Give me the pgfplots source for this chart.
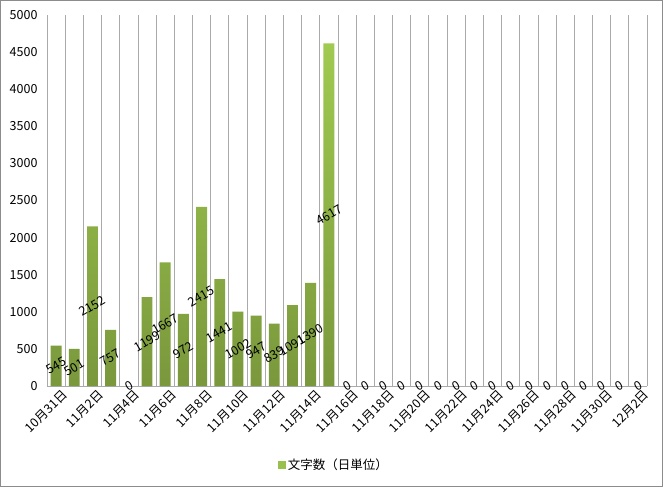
\documentclass[border=0pt]{standalone}
\usepackage{pgfplots}
\pgfplotsset{compat=1.18}
\usepackage{pgfplotstable}
\usepackage{fontspec}
\setmainfont{Noto Sans CJK JP}
\definecolor{bartop}{RGB}{160,202,80}
\definecolor{barbot}{RGB}{122,152,60}
\definecolor{gridc}{RGB}{170,170,170}
\definecolor{framec}{RGB}{140,140,140}
\pgfplotstableread{
i v
0 545
1 501
2 2152
3 757
4 0
5 1199
6 1667
7 972
8 2415
9 1441
10 1002
11 947
12 839
13 1091
14 1390
15 4617
16 0
17 0
18 0
19 0
20 0
21 0
22 0
23 0
24 0
25 0
26 0
27 0
28 0
29 0
30 0
31 0
32 0
}\datatable
\pgfplotstableread{
i v
0 545
1 501
2 2152
3 757
5 1199
6 1667
7 972
8 2415
9 1441
10 1002
11 947
12 839
13 1091
14 1390
15 4617
}\bartable
\begin{document}
\begin{tikzpicture}[x=1pt,y=1pt]
\useasboundingbox (0,0) rectangle (663,487);
\fill[white] (0,0) rectangle (663,487);
\draw[framec, line width=1.2pt] (0.6,0.6) rectangle (662.4,486.4);
\begin{axis}[
  at={(47pt,101pt)}, anchor=south west,
  scale only axis, width=600pt, height=371pt,
  xmin=-0.5, xmax=32.5, ymin=0, ymax=5000,
  axis x line*=bottom, axis y line*=left,
  axis line style={gridc, line width=0.8pt, -},
  ytick={0,500,...,5000},
  yticklabel style={font=\fontsize{12.5}{14}\selectfont, xshift=-6pt},
  major tick length=0pt, minor tick length=0pt,
  xtick={0,2,...,32},
  xticklabels={10月31日,11月2日,11月4日,11月6日,11月8日,11月10日,11月12日,11月14日,11月16日,11月18日,11月20日,11月22日,11月24日,11月26日,11月28日,11月30日,12月2日},
  xticklabel style={rotate=45, anchor=north east, font=\fontsize{12.5}{14}\selectfont, xshift=5pt, yshift=-2pt},
  minor xtick={-0.5,0.5,...,32.5},
  xminorgrids, minor grid style={gridc, line width=0.8pt},
  /pgf/number format/assume math mode=true,
  /pgf/number format/1000 sep={},
  scaled y ticks=false,
  legend style={at={(0.478,-0.213)}, anchor=center, draw=none, fill=none, font=\fontsize{12.5}{14}\selectfont},
  clip=false,
]
\addplot[ybar, bar width=0.6, draw=none, top color=bartop, bottom color=barbot, forget plot] table[x=i, y=v] {\bartable};
\addplot[draw=none, mark=none, nodes near coords, point meta=explicit,
  every node near coord/.append style={anchor=center, rotate=30, font=\fontsize{12.5}{14}\selectfont, text=black},
  legend image code/.code={\fill[bartop!80!barbot] (0pt,-4pt) rectangle (8pt,4pt);}]
  table[x=i, y expr=\thisrow{v}/2, meta=v] {\datatable};
\addlegendentry{文字数（日単位）}
\end{axis}
\end{tikzpicture}
\end{document}
